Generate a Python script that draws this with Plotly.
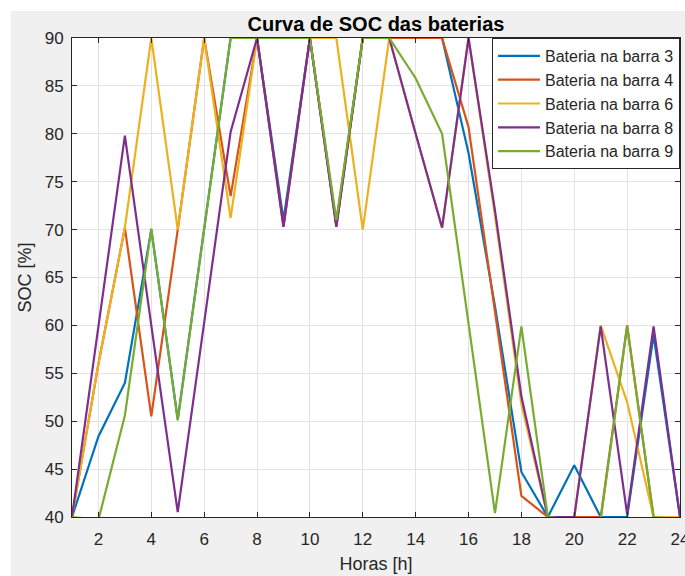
import plotly.graph_objects as go

horas = list(range(1, 25))

bateria_3 = [40, 48.4, 54.0, 70.0, 50.2, 70.0, 90, 90, 71.0, 90, 70.6, 90,
             90, 90, 90, 78.0, 62.0, 44.7, 40, 45.4, 40, 40, 59.0, 40]
bateria_4 = [40, 56.0, 70.2, 50.5, 70.0, 90, 73.5, 90, 70.3, 90, 70.3, 90,
             90, 90, 90, 80.7, 61.5, 42.2, 40, 40, 40, 60.0, 40, 40]
bateria_6 = [40, 56.0, 70.2, 90, 70.0, 90, 71.2, 90, 90, 90, 90, 70.0,
             90, 80.0, 70.2, 90, 71.5, 51.8, 40, 40, 60.0, 52.0, 40, 40]
bateria_8 = [40, 60.0, 79.8, 60.0, 40.5, 60.3, 80.2, 90, 70.3, 90, 70.3, 90,
             90, 80.0, 70.2, 90, 72.0, 52.6, 40, 40, 59.9, 40.3, 59.9, 40]
bateria_9 = [40, 39.7, 50.6, 70.1, 50.1, 70.0, 90, 90, 90, 90, 71.0, 90,
             90, 85.8, 80.0, 60.2, 40.4, 59.9, 40, 39.7, 39.7, 59.9, 40, 39.7]

series = [
    ("Bateria na barra 3", bateria_3, "#0072BD"),
    ("Bateria na barra 4", bateria_4, "#D95319"),
    ("Bateria na barra 6", bateria_6, "#EDB120"),
    ("Bateria na barra 8", bateria_8, "#7E2F8E"),
    ("Bateria na barra 9", bateria_9, "#77AC30"),
]

x_ticks = list(range(2, 25, 2))
y_ticks = list(range(40, 91, 5))

FONT = "Liberation Sans, Arial, sans-serif"
AX = "#262626"

fig = go.Figure()
for name, vals, col in series:
    fig.add_trace(go.Scatter(x=horas, y=vals, mode="lines", name=name,
                             line=dict(color=col, width=2.2)))

axis_common = dict(showline=True, linecolor=AX, linewidth=1, mirror="ticks",
                   ticks="inside", ticklen=5, tickcolor=AX, tickwidth=1,
                   showgrid=True, gridcolor="#e3e3e3", gridwidth=1,
                   zeroline=False, ticklabeloverflow="allow", automargin=False,
                   tickfont=dict(family=FONT, size=17, color=AX))

fig.update_xaxes(range=[1, 24], tickvals=x_ticks, ticktext=[str(v) for v in x_ticks],
                 title=dict(text="Horas [h]", font=dict(family=FONT, size=18, color=AX),
                            standoff=8),
                 ticklabelstandoff=7, **axis_common)
fig.update_yaxes(range=[40, 90], tickvals=y_ticks, ticktext=[str(v) for v in y_ticks],
                 title=dict(text="SOC [%]", font=dict(family=FONT, size=18, color=AX),
                            standoff=8),
                 ticklabelstandoff=4, **axis_common)

fig.update_layout(
    width=685, height=576,
    margin=dict(l=72, r=5, t=38, b=59, autoexpand=False),
    paper_bgcolor="#f0f0f0", plot_bgcolor="white",
    title=dict(text="<b>Curva de SOC das baterias</b>", x=0.5, xanchor="center",
               xref="paper", y=1 - 24 / 576, yanchor="middle", yref="container",
               font=dict(family=FONT, size=20, color="black")),
    legend=dict(x=1, xanchor="right", y=1, yanchor="top", bgcolor="white",
                bordercolor=AX, borderwidth=1,
                font=dict(family=FONT, size=16, color=AX), itemwidth=42,
                tracegroupgap=0),
    showlegend=True,
    shapes=[
        dict(type="rect", xref="paper", yref="paper", x0=-0.2, x1=1.1,
             y0=(517 - 11) / 479, y1=1.2, fillcolor="white", line=dict(width=0),
             layer="below"),
        dict(type="rect", xref="paper", yref="paper", x0=-0.2, x1=(11 - 72) / 608,
             y0=-0.2, y1=1.2, fillcolor="white", line=dict(width=0), layer="below"),
    ],
)

fig.write_html("out.html")
